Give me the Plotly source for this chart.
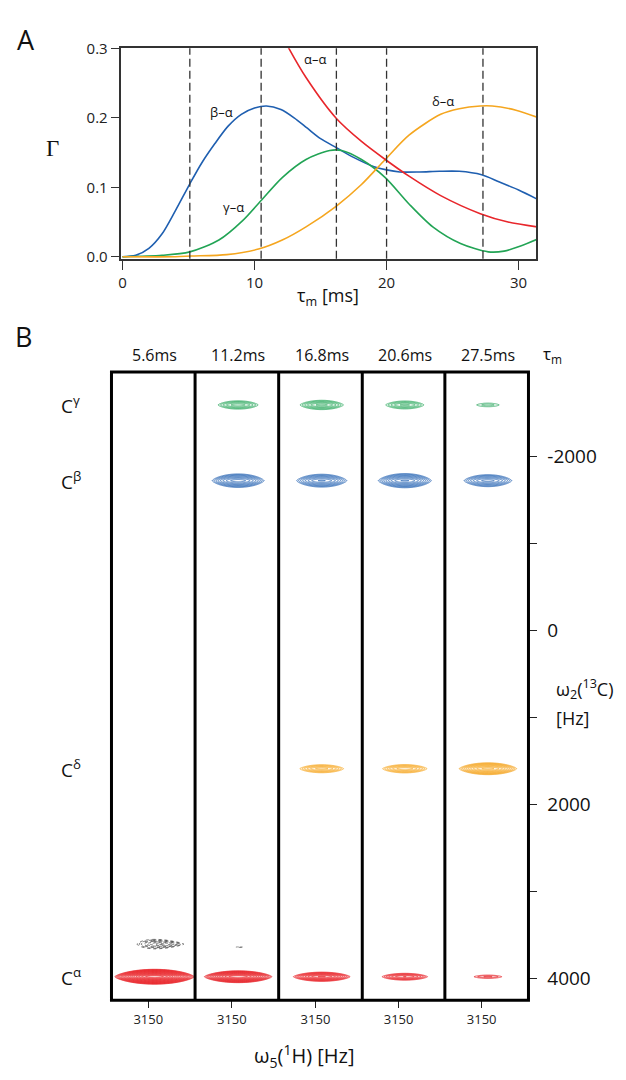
import numpy as np
import plotly.graph_objects as go

W, H = 626, 1080
FONT = "Open Sans"

# ---------------- Panel A data (Γ vs mixing time) ----------------
beta_t = [0, 1, 2, 3, 4, 5.1, 6, 7, 8, 9, 10, 10.9, 12, 13, 14, 15, 16.2, 17.5, 19, 20, 21, 22.5, 24, 25.5, 27.2, 28.5, 30, 31.4]
beta_g = [0, 0.002, 0.012, 0.033, 0.066, 0.105, 0.135, 0.163, 0.188, 0.205, 0.214, 0.217, 0.212, 0.2, 0.185, 0.17, 0.157, 0.143, 0.13, 0.125, 0.122, 0.122, 0.123, 0.123, 0.118, 0.108, 0.096, 0.083]

gamma_t = [0, 3, 5.1, 7.3, 9.1, 10.5, 12.1, 13.9, 15.7, 16.6, 18.1, 19.9, 21.7, 23.5, 25.6, 27.7, 28.9, 30.1, 31.4]
gamma_g = [0, 0.002, 0.007, 0.024, 0.052, 0.081, 0.114, 0.14, 0.153, 0.153, 0.14, 0.114, 0.076, 0.043, 0.019, 0.007, 0.008, 0.015, 0.025]

delta_t = [0, 4, 5.2, 7.9, 10.3, 12.1, 13.9, 16.2, 18.1, 19.9, 21.7, 24.1, 25.5, 27.1, 28.0, 29.8, 31.4]
delta_g = [0, 0, 0.001, 0.003, 0.011, 0.024, 0.043, 0.073, 0.104, 0.14, 0.175, 0.205, 0.213, 0.217, 0.217, 0.211, 0.201]

alpha_t = [12.0, 12.6, 13.9, 16.2, 18.1, 19.9, 21.7, 24.1, 27.1, 29.2, 31.4]
alpha_g = [0.322, 0.3, 0.258, 0.199, 0.166, 0.14, 0.116, 0.088, 0.062, 0.05, 0.043]

dash_t = [5.1, 10.5, 16.2, 20.0, 27.3]

# ---------------- Panel B data (strips) ----------------
tau_labels = ["5.6ms", "11.2ms", "16.8ms", "20.6ms", "27.5ms"]
carbon_labels = ["C<sup>γ</sup>", "C<sup>β</sup>", "C<sup>δ</sup>", "C<sup>α</sup>"]
carbon_shift_hz = [-2590, -1720, 1590, 3980]      # ω2 (13C)
proton_hz = 3165                                   # ω5 (1H) of the peaks
strip_tick = 3150
# peak intensities (relative to lowest contour level), one per strip
gamma_int = [0, 3.6, 4.5, 3.3, 1.5]
beta_int = [0, 8.5, 7.4, 9.9, 6.1]
delta_int = [0, 0, 4.6, 5.0, 14.0]
alpha_int = [151, 38, 13, 5.4, 1.85]
# negative (dotted) artefact peak
neg_strip = [0, 1]
neg_shift_hz = [3605, 3640]
neg_proton_hz = [3179, 3169]
neg_int = [5.7, 1.05]

C_BLUE = "#1f5fb0"
C_GREEN = "#22a455"
C_ORANGE = "#f5a61f"
C_RED = "#e8262b"
C_AX = "#333333"


def px(x):
    return x / W


def py(y):
    return 1 - y / H


fig = go.Figure()

# ---------- Panel A ----------
for t, g, c in [(beta_t, beta_g, C_BLUE), (gamma_t, gamma_g, C_GREEN),
                (delta_t, delta_g, C_ORANGE), (alpha_t, alpha_g, C_RED)]:
    fig.add_trace(go.Scatter(x=t, y=g, mode="lines", line=dict(color=c, width=1.6, shape="spline", smoothing=0.8),
                             xaxis="x", yaxis="y", showlegend=False, hoverinfo="skip", cliponaxis=True))

for t in dash_t:
    fig.add_shape(type="line", xref="x", yref="y domain", x0=t, x1=t, y0=0, y1=1,
                  line=dict(color="#333", width=1.3, dash="8px,4px"))

# ---------- Panel B ----------
strip_left = [109, 193, 277, 361, 444]
strip_right = 528
strip_top, strip_bot = 367, 1006
x_rng = [3062, 3262]
y_rng = [4250, -2970]

SX = 30.0
PY = 1.4
row_sy = [40.0, 45.0, 34.0, 27.0]
row_int = [gamma_int, beta_int, delta_int, alpha_int]
row_col = [C_GREEN, C_BLUE, C_ORANGE, C_RED]


def peak_trace(k, x0, y0, amp, sx, sy, color, dash="solid", taper=0.0):
    la = float(np.log(amp))
    hx = sx * np.sqrt(2 * la)
    hy = sy * la ** (1 / PY)
    xs = np.linspace(x0 - 1.4 * hx, x0 + 1.4 * hx, 141)
    ys = np.linspace(y0 - 1.6 * hy, y0 + 1.6 * hy, 81)
    X, Y = np.meshgrid(xs, ys)
    syx = sy * (1 - taper * (X - x0) / (hx * 1.4))
    Z = la - ((X - x0) ** 2 / (2 * sx ** 2) + np.abs((Y - y0) / syx) ** PY)
    return go.Contour(x=xs, y=ys, z=Z, xaxis="x" + str(k + 2), yaxis="y" + str(k + 2),
                      autocontour=False,
                      contours=dict(start=0.0, end=max(la, 0.0), size=0.28, coloring="lines"),
                      colorscale=[[0, color], [1, color]], showscale=False,
                      line=dict(width=0.75, dash=dash), hoverinfo="skip")


for r in range(4):
    for k in range(5):
        a = row_int[r][k]
        if a > 1:
            fig.add_trace(peak_trace(k, proton_hz, carbon_shift_hz[r], a, SX, row_sy[r], row_col[r]))

for s, yv, xv, a in zip(neg_strip, neg_shift_hz, neg_proton_hz, neg_int):
    fig.add_trace(peak_trace(s, xv, yv, a, SX, 35.0, "#333333", dash="dot", taper=0.5))

layout_axes = {}
layout_axes["xaxis"] = dict(domain=[px(119), px(536)], range=[-0.08, 31.35], anchor="y",
                            showline=True, mirror=True, linecolor=C_AX, linewidth=1.5,
                            ticks="outside", ticklen=9, tickwidth=1.3, tickcolor=C_AX,
                            tickvals=[0, 10, 20, 30], tickfont=dict(size=15, color="#222"),
                            showgrid=False, zeroline=False)
layout_axes["yaxis"] = dict(domain=[py(252), py(38)], range=[-0.003, 0.3], anchor="x",
                            showline=True, mirror=True, linecolor=C_AX, linewidth=1.5,
                            ticks="outside", ticklen=9, tickwidth=1.3, tickcolor=C_AX,
                            tickvals=[0, 0.1, 0.2, 0.3], tickformat=".1f",
                            tickfont=dict(size=15, color="#222"),
                            showgrid=False, zeroline=False)

edges = strip_left + [strip_right]
for k in range(5):
    xa = "xaxis" + str(k + 2)
    ya = "yaxis" + str(k + 2)
    layout_axes[xa] = dict(domain=[px(edges[k]), px(edges[k + 1])], range=x_rng, anchor="y" + str(k + 2),
                           showline=False, showgrid=False, zeroline=False,
                           ticks="outside", ticklen=7, tickwidth=1, tickcolor="#222",
                           tickvals=[strip_tick], tickfont=dict(size=13, color="#222"))
    yd = dict(domain=[py(strip_bot), py(strip_top)], range=y_rng, anchor="x" + str(k + 2),
              showline=False, showgrid=False, zeroline=False, showticklabels=False, ticks="")
    if k == 4:
        yd.update(side="right", showticklabels=True, ticks="outside", ticklen=8, tickwidth=1.3,
                  tickcolor="#222", tickvals=[-2000, 0, 2000, 4000],
                  ticktext=["-2000", "0", "2000", "4000"],
                  tickfont=dict(size=19, color="#111"), ticklabelstandoff=6,
                  minor=dict(ticks="outside", ticklen=8, tickwidth=1.3, tickcolor="#222",
                             tickvals=[-1000, 1000, 3000]))
    layout_axes[ya] = yd

# strip borders
fig.add_shape(type="rect", xref="paper", yref="paper", x0=px(strip_left[0]), x1=px(strip_right),
              y0=py(strip_bot), y1=py(strip_top), line=dict(color="black", width=3))
for xl in strip_left[1:]:
    fig.add_shape(type="line", xref="paper", yref="paper", x0=px(xl), x1=px(xl),
                  y0=py(strip_bot), y1=py(strip_top), line=dict(color="black", width=3))

ann = []


def text(x, y, s, size, xanchor="center", family=FONT, color="#111"):
    ann.append(dict(x=px(x), y=py(y), xref="paper", yref="paper", text=s, showarrow=False,
                    xanchor=xanchor, yanchor="middle", font=dict(size=size, family=family, color=color)))


text(23, 29, "A", 27)
text(21, 331, "B", 27)
text(50, 140, "Γ", 23, family="Liberation Serif")
text(327, 290, "τ<sub>m</sub> [ms]", 18)

# curve labels (data coordinates)
for s, xv, yv in [("α–α", 14.6, 0.284), ("β–α", 7.5, 0.208), ("γ–α", 8.4, 0.071), ("δ–α", 24.3, 0.224)]:
    ann.append(dict(x=xv, y=yv, xref="x", yref="y", text=s, showarrow=False,
                    font=dict(size=13, family=FONT, color="#111")))

# strip headers
for k, lab in enumerate(tau_labels):
    cx = (edges[k] + edges[k + 1]) / 2 + 1.5
    text(cx, 350, lab, 16)
text(541, 349, "τ<sub>m</sub>", 17, xanchor="left")

# carbon labels at their ω2 shift
for lab, yv in zip(carbon_labels, carbon_shift_hz):
    ann.append(dict(x=px(56), y=yv, xref="paper", yref="y2", text=lab, showarrow=False,
                    xanchor="left", yanchor="middle", font=dict(size=19, family=FONT, color="#111")))

text(554, 689, "ω<sub>2</sub>(<sup>13</sup>C)", 18, xanchor="left")
text(554, 719, "[Hz]", 18, xanchor="left")
text(302, 1063, "ω<sub>5</sub>(<sup>1</sup>H) [Hz]", 20)

fig.update_layout(width=W, height=H, margin=dict(l=0, r=0, t=0, b=0),
                  paper_bgcolor="white", plot_bgcolor="white",
                  font=dict(family=FONT, color="#111"),
                  showlegend=False, annotations=ann, **layout_axes)

fig.write_html("out.html", config={"displayModeBar": False},
               post_script="document.body.style.margin='0px';")
